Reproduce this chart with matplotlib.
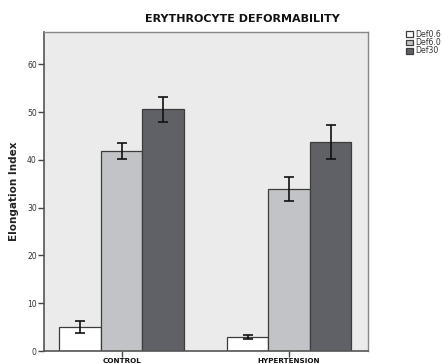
import matplotlib
matplotlib.use("Agg")
import matplotlib.pyplot as plt
import numpy as np

groups = ["CONTROL", "HYPERTENSION"]
series = ["Def0.6", "Def6.0", "Def30"]
means = {
    "Def0.6": [5.1, 2.9],
    "Def6.0": [41.8, 34.0],
    "Def30": [50.6, 43.8],
}
errors = {
    "Def0.6": [1.25, 0.4],
    "Def6.0": [1.65, 2.5],
    "Def30": [2.65, 3.55],
}
colors = {"Def0.6": "#ffffff", "Def6.0": "#c2c3c6", "Def30": "#5f6166"}
yticks = [0, 10, 20, 30, 40, 50, 60]

fig = plt.figure(figsize=(4.42, 3.64), dpi=100)
ax = fig.add_axes([0.0989, 0.0357, 0.7331, 0.8755])
ax.set_facecolor("#ebebeb")

x = np.arange(len(groups))
width = 0.248
for i, s in enumerate(series):
    pos = x + (i - 1) * width
    ax.bar(pos, means[s], width, color=colors[s], edgecolor="#3c3c3c",
           linewidth=0.9, label=s, zorder=2)
    ax.errorbar(pos, means[s], yerr=errors[s], fmt="none", ecolor="#111111",
                elinewidth=1.2, capsize=3.6, capthick=1.2, zorder=3)

ax.set_xlim(-0.466, 1.470)
ax.set_ylim(0, 66.7)
ax.set_yticks(yticks)
ax.set_yticklabels([str(t) for t in yticks], fontsize=5.5, color="#333333")
ax.set_xticks(x)
ax.set_xticklabels(groups, fontsize=5.2, fontweight="bold", color="#111111")
ax.tick_params(axis="both", direction="out", length=4, width=1, color="#444444", pad=1)

for side in ["top", "right"]:
    ax.spines[side].set_color("#888888")
    ax.spines[side].set_linewidth(1.0)
for side in ["left", "bottom"]:
    ax.spines[side].set_color("#555555")
    ax.spines[side].set_linewidth(1.2)

ax.set_ylabel("Elongation Index", fontsize=7.5, fontweight="bold", color="#222222")
ax.yaxis.set_label_coords(-0.076, 0.5)

fig.text(242 / 442, 1 - 19 / 364, "ERYTHROCYTE DEFORMABILITY", ha="center", va="center",
         fontsize=8, fontweight="bold", color="#111111")

leg = fig.legend(loc="upper left", bbox_to_anchor=(406 / 442, 1 - 30 / 364),
                 frameon=False, fontsize=5.6, handlelength=0.85, handleheight=0.75,
                 handletextpad=0.3, labelspacing=-0.1, borderpad=0, borderaxespad=0)
for t in leg.get_texts():
    t.set_color("#333333")

fig.savefig("out.png", dpi=100)
